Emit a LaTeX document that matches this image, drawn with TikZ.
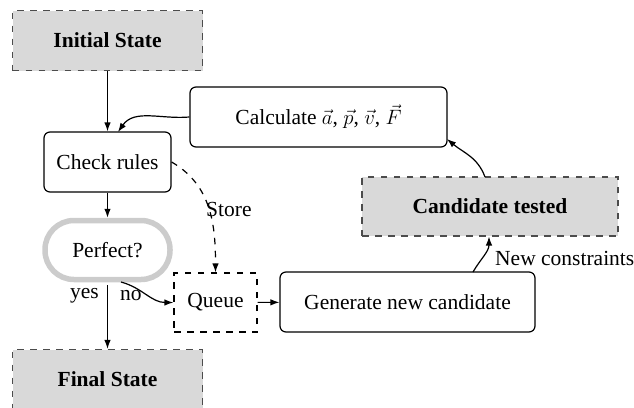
\documentclass[tikz,border=0pt]{standalone}
\usepackage{fontspec}
\setmainfont{Liberation Serif}
\usetikzlibrary{arrows.meta}
\begin{document}
\begin{tikzpicture}[x=1pt,y=-1pt,
  font=\fontsize{21.5}{26}\selectfont,
  every node/.style={inner sep=0pt},
  statebox/.style={draw=black!70, fill=black!15, line width=1.2pt, dash pattern=on 6.5pt off 6.5pt, minimum width=190pt, minimum height=60pt, font=\fontsize{21.5}{26}\selectfont\bfseries},
  procbox/.style={draw, line width=1.2pt, rounded corners=6pt},
  queuebox/.style={draw, line width=1.2pt, dash pattern=on 6.5pt off 6.5pt, minimum width=83pt, minimum height=59pt},
  decbox/.style={draw=black!20, line width=5.5pt, rounded corners=29pt, minimum width=125pt, minimum height=59pt},
  conn/.style={line width=1.2pt, -{Latex[length=9pt,width=6.5pt]}},
  lab/.style={inner sep=0pt}
]
\useasboundingbox (0,0) rectangle (634,407);
\node[statebox] (init) at (107.5,40.5) {Initial State};
\node[procbox, minimum width=127pt, minimum height=60pt] (check) at (107.5,162) {Check rules};
\node[decbox] (perf) at (107.5,250) {Perfect?};
\node[statebox] (final) at (107.5,379.5) {Final State};
\node[queuebox] (queue) at (215.5,302.5) {Queue};
\node[procbox, minimum width=255pt, minimum height=60pt] (gen) at (407.5,302) {Generate new candidate};
\node[statebox, minimum width=256pt, minimum height=59pt] (cand) at (490,206.5) {Candidate tested};
\node[procbox, minimum width=257pt, minimum height=60pt] (calc) at (318.5,117) {Calculate $\vec{a}$, $\vec{p}$, $\vec{v}$, $\vec{F}$};

\draw[conn] (init) -- (check);
\draw[conn] (check) -- (perf);
\draw[conn] (perf.south) ++(0,3) coordinate (ps) (ps) -- (final.north);
\node[lab, anchor=east] (yes) at (99,296) {yes};
\node[lab, anchor=west] (no) at (120,296) {no};
\coordinate (nostart) at (121,282);
\draw[conn] (nostart) to[out=-15,in=180] (queue.west);
\draw[conn] (queue) -- (gen);
\coordinate (genout) at (473,272);
\coordinate (candin) at (489,236.5);
\draw[conn] (genout) to[out=60,in=-90] (candin);
\node[lab, anchor=west] (newc) at (495,258) {New constraints};
\coordinate (candout) at (485,177);
\coordinate (calcin) at (447,139);
\draw[conn] (candout) to[out=110,in=-40] (calcin);
\coordinate (checkin) at (118,132);
\draw[conn] (calc.west) to[out=185,in=55] (checkin);
\draw[conn, dash pattern=on 6.5pt off 6.5pt] (check.east) to[out=-30,in=90] (queue.north);
\node[lab, anchor=west] (store) at (206,209) {Store};
\end{tikzpicture}
\end{document}
